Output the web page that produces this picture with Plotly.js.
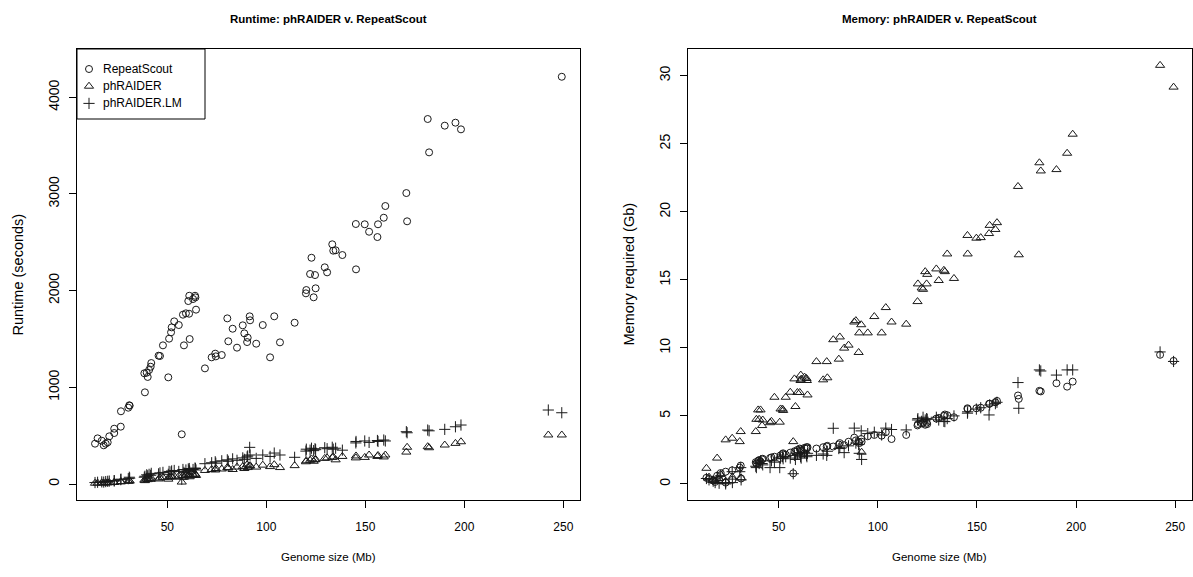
<!DOCTYPE html>
<html>
<head>
<meta charset="utf-8">
<script src="https://cdn.plot.ly/plotly-3.0.1.min.js"></script>
<style>html,body{margin:0;padding:0;background:#fff;}#chart{width:1193px;height:577px;}</style>
</head>
<body>
<div id="chart"></div>
<script>
// Genome sizes (Mb)
const genomeSize = [13.5,14.8,16.9,17.9,18.9,19.9,20.7,23.2,23.2,26.5,26.6,30.3,30.8,31.0,
  38.4,38.7,39.6,40.1,40.8,41.6,41.9,45.6,46.3,47.8,50.5,50.9,51.9,52.2,53.5,55.8,57.3,57.9,58.4,59.4,60.6,61.0,61.1,61.3,63.0,64.0,64.2,64.5,
  69.0,72.4,74.2,74.5,77.5,80.3,80.8,83.0,85.2,88.1,88.9,90.3,90.6,91.6,91.8,94.9,98.2,101.9,104.0,106.9,114.3,
  120.0,120.2,122.1,122.8,123.9,124.6,124.9,129.5,130.7,133.3,133.8,135.0,138.4,145.2,145.3,149.7,151.9,156.1,156.4,159.3,160.1,
  170.7,171.1,181.5,182.2,190.1,195.5,198.3,242.4,249.2];

// Runtime (seconds)
const runtimeRepeatScout = [417,472,448,400,417,431,493,527,572,593,752,789,814,810,
  1145,948,1151,1107,1179,1213,1251,1327,1324,1434,1103,1503,1569,1620,1682,1644,514,1751,1434,1765,1892,1761,1947,1499,1913,1947,1930,1803,
  1196,1310,1348,1320,1334,1713,1476,1606,1410,1641,1558,1468,1513,1734,1693,1451,1644,1310,1734,1465,1668,
  1972,2006,2172,2340,1931,2161,2024,2241,2189,2479,2413,2417,2368,2689,2220,2686,2609,2554,2686,2754,2875,
  3009,2717,3775,3430,3706,3737,3668,null,4212];
const runtimePhRAIDER = [8,10,12,9,14,11,15,18,16,22,25,28,35,30,
  40,35,50,45,55,48,60,52,62,68,50,72,78,70,82,80,20,88,70,92,90,84,98,75,95,102,100,88,
  140,150,145,160,155,170,165,150,175,180,160,200,170,185,190,175,195,180,200,170,190,
  230,240,245,260,235,250,255,265,270,275,280,250,285,270,290,275,300,285,295,280,300,
  330,380,386,375,403,420,437,507,507];
const runtimePhRAIDERLM = [15,18,22,20,25,28,30,35,32,45,50,55,70,60,
  70,80,95,85,100,90,110,105,115,120,100,130,125,135,140,130,50,150,120,145,155,140,160,130,150,165,160,145,
  210,220,230,215,240,250,235,260,245,270,255,280,290,379,300,265,300,285,320,300,276,
  340,360,350,370,345,365,355,375,365,380,360,370,350,425,440,445,430,450,440,455,445,
  541,530,558,550,565,592,610,765,737];

// Memory required (Gb)
const memoryRepeatScout = [0.45,0.35,0.25,0.15,0.6,0.3,0.8,0.9,0.1,1.0,0.3,1.2,1.35,0.4,
  1.6,1.5,1.7,1.75,1.65,1.8,1.85,1.9,1.95,2.0,1.9,2.1,2.2,2.25,2.15,2.3,0.78,2.4,2.35,2.5,2.6,2.45,2.55,2.4,2.65,2.7,2.6,2.7,
  2.6,2.7,2.75,2.8,2.75,2.9,3.0,2.85,3.1,3.4,3.2,3.1,3.0,3.3,3.1,3.5,3.6,3.55,3.8,3.3,3.6,
  4.3,4.4,4.45,4.5,4.35,4.5,4.4,4.8,4.85,5.0,5.1,5.05,4.9,5.56,5.5,5.56,5.6,5.88,5.9,6.0,6.1,
  6.5,6.25,6.84,6.8,7.4,7.15,7.52,9.49,9.04];
const memoryPhRAIDER = [1.15,0.5,0.3,0.2,1.9,0.4,0.7,3.24,0.2,3.36,0.5,3.11,3.85,0.45,
  3.85,4.75,5.44,4.75,5.44,4.29,4.7,4.5,4.6,6.37,4.54,5.51,5.5,5.4,6.37,6.74,3.11,7.72,5.69,6.72,6.72,7.6,8.0,7.7,7.85,7.75,7.6,6.54,
  8.99,7.65,8.99,7.8,10.6,9.17,10.8,9.98,10.2,11.9,12.0,9.66,11.1,11.7,2.33,11.1,12.3,11.1,12.96,11.9,11.74,
  13.4,14.7,14.4,14.3,15.6,14.7,15.4,15.8,14.95,15.7,15.6,16.9,15.1,18.26,16.9,18.06,18.1,18.4,19.0,18.7,19.2,
  21.86,16.84,23.6,23.0,23.1,24.3,25.7,30.76,29.16];
const memoryPhRAIDERLM = [0.4,0.3,0.2,0.1,0.5,0.05,0.6,0.1,0.0,0.9,0.1,0.9,1.2,0.3,
  1.3,1.2,1.6,1.5,1.7,1.5,1.4,1.2,1.7,1.6,1.2,1.9,2.0,1.85,2.0,1.9,0.75,2.1,1.8,2.2,2.3,2.0,2.2,1.9,2.3,2.1,2.0,2.25,
  2.1,2.2,2.1,2.4,4.09,2.6,2.7,2.3,2.8,4.1,3.0,2.9,2.25,3.9,1.8,3.7,3.8,3.6,4.1,4.0,3.97,
  4.7,4.8,4.6,4.9,4.7,4.8,4.75,4.9,4.7,4.6,4.58,4.8,5.0,5.2,5.3,5.5,5.6,5.07,5.8,5.9,6.0,
  7.45,5.56,8.38,8.3,8.0,8.38,8.38,9.7,9.0];

const seriesNames = ['RepeatScout','phRAIDER','phRAIDER.LM'];
const xTicks = [50,100,150,200,250];
const runtimeTicks = [0,1000,2000,3000,4000];
const memoryTicks = [0,5,10,15,20,25,30];

const ink = '#1a1a1a';
const symbols = {
  'RepeatScout': {symbol:'circle-open', size:7},
  'phRAIDER': {symbol:'triangle-up-open', size:8},
  'phRAIDER.LM': {symbol:'cross-thin-open', size:8}
};
function tr(name, x, y, xa, ya){
  const s = symbols[name];
  return {type:'scatter', mode:'markers', name:name, x:x, y:y,
    xaxis:xa, yaxis:ya, showlegend:false, cliponaxis:false,
    marker:{symbol:s.symbol, size:s.size, color:ink, line:{color:ink, width:1}}};
}
const data = [
  tr(seriesNames[0], genomeSize, runtimeRepeatScout, 'x', 'y'),
  tr(seriesNames[1], genomeSize, runtimePhRAIDER, 'x', 'y'),
  tr(seriesNames[2], genomeSize, runtimePhRAIDERLM, 'x', 'y'),
  tr(seriesNames[0], genomeSize, memoryRepeatScout, 'x2', 'y2'),
  tr(seriesNames[1], genomeSize, memoryPhRAIDER, 'x2', 'y2'),
  tr(seriesNames[2], genomeSize, memoryPhRAIDERLM, 'x2', 'y2')
];

const H = 577, W = 1193;
// legend (drawn in pixel space on an invisible overlay axis)
const legBox = {x0:77, x1:205, y0:49, y1:119};
const legSymX = 89, legTextX = 101, legRow0 = 69, legRowStep = 17.2;
seriesNames.forEach((n,i)=>{
  data.push(tr(n, [legSymX], [legRow0 + i*legRowStep], 'x3', 'y3'));
});

const fam = 'Liberation Sans, Arial, sans-serif';
const font = {family:fam, size:11.5, color:'#000'};
const yFont = {family:fam, size:14, color:'#000'};
const axisBase = {showline:true, mirror:true, linecolor:'#000', linewidth:1, showgrid:false, zeroline:false,
  ticks:'outside', ticklen:7, tickwidth:1, tickcolor:'#000', tickmode:'array', fixedrange:true};
const xAxisBase = Object.assign({}, axisBase, {tickfont:{family:fam, size:12, color:'#000'}, ticklabelstandoff:9});
const yAxisBase = Object.assign({}, axisBase, {tickfont:yFont, tickangle:-90, ticklabelstandoff:4});

const yDom = [(H-500)/H, (H-49)/H];
const annotations = [
  {text:'<b>Runtime: phRAIDER v. RepeatScout</b>', x:328.5/W, y:(H-19)/H, xanchor:'center', font:font},
  {text:'<b>Memory: phRAIDER v. RepeatScout</b>', x:940/W, y:(H-19)/H, xanchor:'center', font:font},
  {text:'Genome size (Mb)', x:328.5/W, y:(H-557)/H, xanchor:'center', font:font},
  {text:'Genome size (Mb)', x:940/W, y:(H-557)/H, xanchor:'center', font:font},
  {text:'Runtime (seconds)', x:17/W, y:(H-274.5)/H, xanchor:'center', textangle:-90, font:{family:fam, size:14.5, color:'#000'}},
  {text:'Memory required (Gb)', x:628/W, y:(H-274.5)/H, xanchor:'center', textangle:-90, font:{family:fam, size:14.5, color:'#000'}}
].map(a=>Object.assign({xref:'paper', yref:'paper', yanchor:'middle', showarrow:false}, a));
seriesNames.forEach((n,i)=>{
  annotations.push({text:n, xref:'paper', yref:'paper', x:legTextX/W, y:(H-(legRow0+i*legRowStep))/H,
    xanchor:'left', yanchor:'middle', showarrow:false, font:{family:fam,size:12,color:'#000'}});
});

const layout = {
  width:W, height:H, margin:{l:0,r:0,t:0,b:0}, paper_bgcolor:'#fff', plot_bgcolor:'rgba(0,0,0,0)', font:font,
  showlegend:false,
  xaxis:Object.assign({}, xAxisBase, {domain:[77/W, 580/W], range:[4.4,258.4], tickvals:xTicks, anchor:'y'}),
  yaxis:Object.assign({}, yAxisBase, {domain:yDom, range:[-165.5,4499], tickvals:runtimeTicks, anchor:'x'}),
  xaxis2:Object.assign({}, xAxisBase, {domain:[688/W, 1192/W], range:[4.2,258.5], tickvals:xTicks, anchor:'y2'}),
  yaxis2:Object.assign({}, yAxisBase, {domain:yDom, range:[-1.18,31.96], tickvals:memoryTicks, anchor:'x2'}),
  xaxis3:{domain:[0,1], range:[0,W], visible:false, fixedrange:true, anchor:'y3'},
  yaxis3:{domain:[0,1], range:[H,0], visible:false, fixedrange:true, anchor:'x3'},
  shapes:[{type:'rect', xref:'paper', yref:'paper', x0:legBox.x0/W, x1:legBox.x1/W, y0:(H-legBox.y0)/H, y1:(H-legBox.y1)/H,
    line:{color:'#000', width:1}, fillcolor:'rgba(0,0,0,0)', layer:'above'}],
  annotations:annotations
};
Plotly.newPlot('chart', data, layout, {displayModeBar:false, staticPlot:true});
</script>
</body>
</html>
